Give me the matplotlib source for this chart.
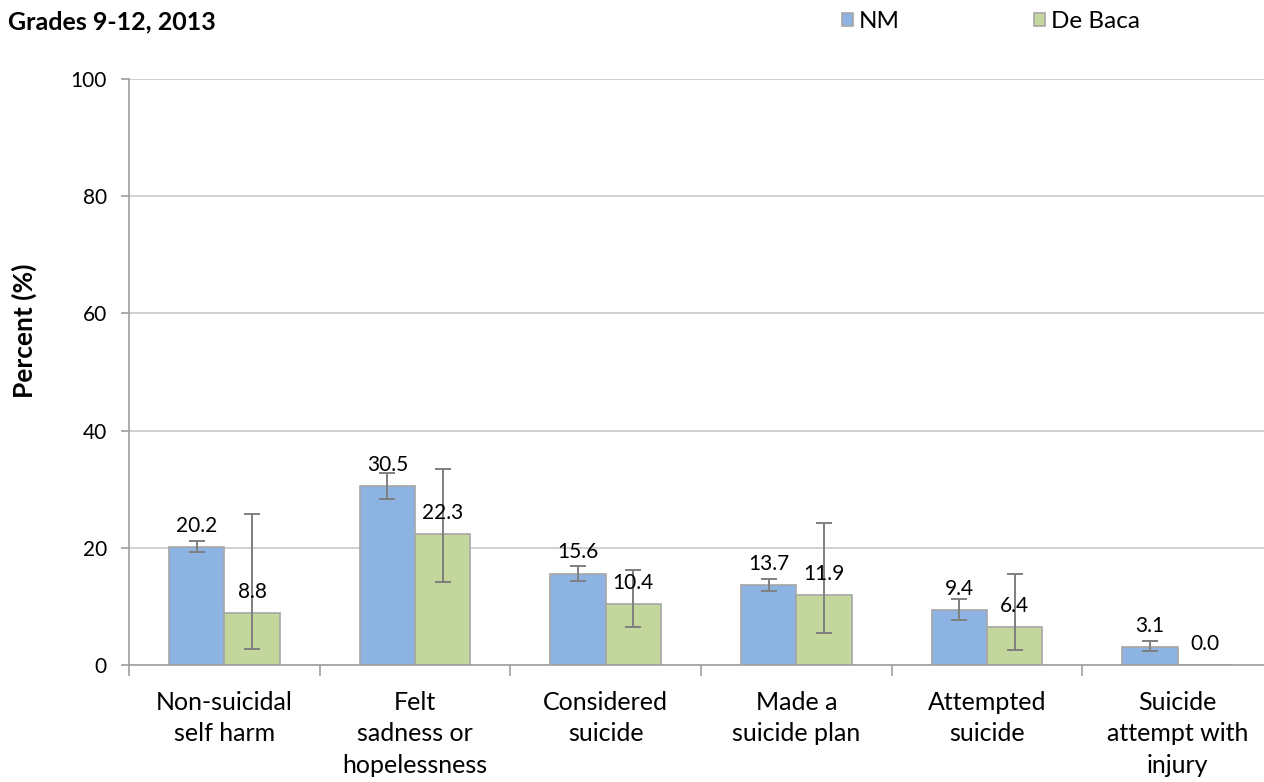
import matplotlib
matplotlib.use("Agg")
import matplotlib.pyplot as plt
import numpy as np

categories = ["Non-suicidal\nself harm", "Felt\nsadness or\nhopelessness", "Considered\nsuicide",
              "Made a\nsuicide plan", "Attempted\nsuicide", "Suicide\nattempt with\ninjury"]
series_names = ["NM", "De Baca"]
nm_values = [20.2, 30.5, 15.6, 13.7, 9.4, 3.1]
nm_low = [19.2, 28.4, 14.4, 12.7, 7.7, 2.4]
nm_high = [21.2, 32.8, 16.9, 14.7, 11.3, 4.1]
db_values = [8.8, 22.3, 10.4, 11.9, 6.4, 0.0]
db_low = [2.7, 14.2, 6.5, 5.5, 2.6, 0.0]
db_high = [25.7, 33.4, 16.2, 24.2, 15.5, 0.0]
yticks = [0, 20, 40, 60, 80, 100]

plt.rcParams['font.family'] = ['Lato', 'DejaVu Sans']

fig = plt.figure(figsize=(12.64, 7.82), dpi=100)
ax = fig.add_axes([129/1264, 117/782, 1144/1264, 586/782])

x = np.arange(len(categories))
w = 0.29
colors = ["#8DB3E2", "#C3D69B"]
edge = "#A6A6A6"
errc = "#7F7F7F"

for i, (vals, lo, hi) in enumerate([(nm_values, nm_low, nm_high), (db_values, db_low, db_high)]):
    pos = x + (i - 0.5) * w
    vals = np.array(vals); lo = np.array(lo); hi = np.array(hi)
    ax.bar(pos, vals, width=w, color=colors[i], edgecolor=edge, linewidth=1.2,
           label=series_names[i], zorder=2)
    mask = hi > lo
    ax.errorbar(pos[mask], vals[mask], yerr=[vals[mask] - lo[mask], hi[mask] - vals[mask]],
                fmt='none', ecolor=errc, elinewidth=1.4, capsize=6, capthick=1.4, zorder=3)
    for p, v in zip(pos, vals):
        ax.annotate(f"{v:.1f}", (p, v), xytext=(0, 8), textcoords="offset points",
                    ha="center", va="bottom", fontsize=15, color="#000000", zorder=4)

ax.set_xlim(-0.5, len(categories) - 0.5)
ax.set_ylim(0, 100)
ax.set_yticks(yticks)
ax.set_yticklabels([str(t) for t in yticks], fontsize=15)
ax.yaxis.grid(True, color="#C8C8C8", linewidth=1.2, zorder=0)
ax.set_axisbelow(True)

ax.set_xticks(x)
ax.set_xticklabels(categories, fontsize=18, linespacing=1.45)
ax.tick_params(axis='x', which='major', length=0, pad=18.5)
ax.set_xticks(np.arange(len(categories) + 1) - 0.5, minor=True)
ax.tick_params(axis='x', which='minor', length=8, color="#A0A0A0", width=1.2)
ax.tick_params(axis='y', length=6, color="#A0A0A0", width=1.2, pad=10)

for s in ['top', 'right']:
    ax.spines[s].set_visible(False)
for s in ['left', 'bottom']:
    ax.spines[s].set_color("#A0A0A0")
    ax.spines[s].set_linewidth(1.2)

ax.set_ylabel("Percent (%)", fontsize=19, fontweight="bold")
ax.yaxis.set_label_coords(-(129 - 37) / 1144, (665 - 331) / 586)

fig.text(8/1264, 1 - 22/782, "Grades 9-12, 2013", fontsize=18, fontweight="bold", va="center", ha="left")

leg = fig.legend(loc="center left", bbox_to_anchor=(820/1264, 1 - 22/782), ncol=2, frameon=False,
                 fontsize=17.5, handlelength=0.45, handleheight=0.45, handletextpad=0.25, columnspacing=5.5)

fig.savefig("out.png", dpi=100)
